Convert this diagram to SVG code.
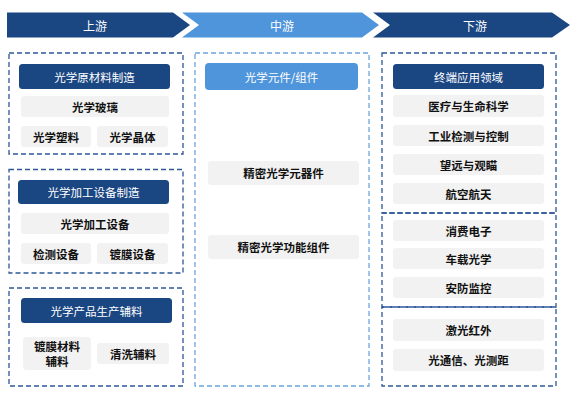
<svg xmlns="http://www.w3.org/2000/svg" width="580" height="401" viewBox="0 0 580 401">
<style>
text{font-family:"Noto Sans CJK SC","Liberation Sans",sans-serif;text-anchor:middle;dominant-baseline:central}
.hd{font-size:12px;fill:#fff}
.tt{font-size:11.5px;fill:#fff}
.it{font-size:11.5px;fill:#111;font-weight:bold}
.dk{fill:#1a4682}
.lt{fill:#4f95db}
.gr{fill:#f2f2f2}
.bd{fill:none;stroke:#2d5898;stroke-width:1.3;stroke-dasharray:5 3}
.bl{fill:none;stroke:#6aa5e0;stroke-width:1.3;stroke-dasharray:5 3}
</style>
<rect width="580" height="401" fill="#fff"/>
<g id="header">
<polygon class="dk" points="7,12.5 173,12.5 190,25 173,37.5 7,37.5"/>
<polygon class="lt" points="182,12.5 362,12.5 379,25 362,37.5 182,37.5 199,25"/>
<polygon class="dk" points="373,12.5 552,12.5 570,25 552,37.5 373,37.5 390,25"/>
<text class="hd" x="95" y="25">上游</text>
<text class="hd" x="282" y="25">中游</text>
<text class="hd" x="475" y="25">下游</text>
</g>
<g id="upstream-materials">
<rect class="bd" x="9" y="53" width="174" height="101"/>
<rect class="dk" x="19" y="64" width="151" height="25" rx="3.5"/>
<text class="tt" x="94.5" y="76.5">光学原材料制造</text>
<rect class="gr" x="21" y="96" width="148" height="21" rx="3"/>
<text class="it" x="95" y="106.5">光学玻璃</text>
<rect class="gr" x="21" y="126" width="70" height="21" rx="3"/>
<text class="it" x="56" y="136.5">光学塑料</text>
<rect class="gr" x="97" y="126" width="71" height="21" rx="3"/>
<text class="it" x="132.5" y="136.5">光学晶体</text>
</g>
<g id="upstream-equipment">
<rect class="bd" x="9" y="169.5" width="174" height="103.5"/>
<rect class="dk" x="18" y="180" width="151" height="24" rx="3.5"/>
<text class="tt" x="93.5" y="192">光学加工设备制造</text>
<rect class="gr" x="21" y="213" width="148" height="21" rx="3"/>
<text class="it" x="95" y="223.5">光学加工设备</text>
<rect class="gr" x="21" y="243" width="70" height="21" rx="3"/>
<text class="it" x="56" y="253.5">检测设备</text>
<rect class="gr" x="97" y="243" width="71" height="21" rx="3"/>
<text class="it" x="132.5" y="253.5">镀膜设备</text>
</g>
<g id="upstream-auxiliary">
<rect class="bd" x="9" y="288" width="174" height="98"/>
<rect class="dk" x="21" y="298" width="151" height="25" rx="3.5"/>
<text class="tt" x="96.5" y="310.5">光学产品生产辅料</text>
<rect class="gr" x="23" y="337" width="68" height="33" rx="4"/>
<text class="it" x="57" y="346">镀膜材料</text>
<text class="it" x="57" y="361">辅料</text>
<rect class="gr" x="97" y="343" width="72" height="21" rx="3"/>
<text class="it" x="133" y="353.5">清洗辅料</text>
</g>
<g id="midstream">
<rect class="bl" x="195" y="53" width="174" height="333"/>
<rect class="lt" x="205" y="63" width="153" height="27" rx="4"/>
<text class="tt" x="281.5" y="76.5">光学元件/组件</text>
<rect class="gr" x="208" y="161" width="151" height="24" rx="3"/>
<text class="it" x="283.5" y="173">精密光学元器件</text>
<rect class="gr" x="208" y="235" width="151" height="24" rx="3"/>
<text class="it" x="283.5" y="247">精密光学功能组件</text>
</g>
<g id="downstream-1">
<rect class="bd" x="382" y="53" width="174" height="160"/>
<rect class="dk" x="393" y="64" width="151" height="25" rx="3.5"/>
<text class="tt" x="468.5" y="76.5">终端应用领域</text>
<rect class="gr" x="393" y="95" width="151" height="22" rx="3"/>
<text class="it" x="468.5" y="106">医疗与生命科学</text>
<rect class="gr" x="393" y="125" width="151" height="21" rx="3"/>
<text class="it" x="468.5" y="135.5">工业检测与控制</text>
<rect class="gr" x="393" y="154" width="151" height="21" rx="3"/>
<text class="it" x="468.5" y="164.5">望远与观瞄</text>
<rect class="gr" x="393" y="183" width="151" height="21" rx="3"/>
<text class="it" x="468.5" y="193.5">航空航天</text>
</g>
<g id="downstream-2">
<rect class="bd" x="382" y="213" width="174" height="94"/>
<rect class="gr" x="393" y="220" width="151" height="21" rx="3"/>
<text class="it" x="468.5" y="230.5">消费电子</text>
<rect class="gr" x="393" y="248" width="151" height="21" rx="3"/>
<text class="it" x="468.5" y="258.5">车载光学</text>
<rect class="gr" x="393" y="277" width="151" height="21" rx="3"/>
<text class="it" x="468.5" y="287.5">安防监控</text>
</g>
<g id="downstream-3">
<rect class="bd" x="382" y="307" width="174" height="79"/>
<rect class="gr" x="393" y="319" width="151" height="22" rx="3"/>
<text class="it" x="468.5" y="330">激光红外</text>
<rect class="gr" x="393" y="349" width="151" height="22" rx="3"/>
<text class="it" x="468.5" y="360">光通信、光测距</text>
</g>
<g id="connectors"/>
</svg>
